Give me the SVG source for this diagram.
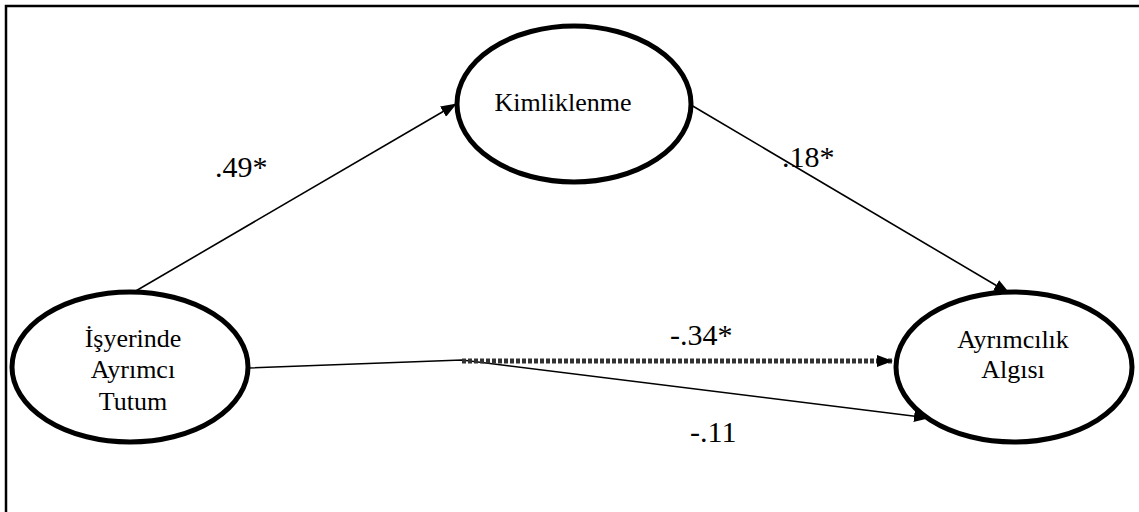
<svg xmlns="http://www.w3.org/2000/svg" width="1139" height="512" viewBox="0 0 1139 512">
<style>
.node ellipse{fill:#fff;stroke:#000;stroke-width:5}
.edge{stroke:#000;stroke-width:1.6;fill:none}
.dot{stroke:#333;stroke-width:5;stroke-dasharray:4 2;fill:none}
</style>
<defs>
<marker id="ah" markerWidth="16" markerHeight="12" refX="15" refY="6" orient="auto" markerUnits="userSpaceOnUse">
<path d="M0,0 L16,6 L0,12 Z" fill="#000"/>
</marker>
</defs>
<rect x="6" y="6" width="1150" height="520" fill="#fff" stroke="#000" stroke-width="2.5"/>
<g id="connectors">
<line class="edge" x1="134" y1="292" x2="456" y2="104" marker-end="url(#ah)"/>
<line class="edge" x1="691" y1="105" x2="1009" y2="293" marker-end="url(#ah)"/>
<polyline class="edge" points="248,368 462,360 929,418" marker-end="url(#ah)"/>
<line class="dot" x1="462" y1="361" x2="892" y2="361" marker-end="url(#ah)"/>
</g>
<g id="n-kimlik" class="node">
<ellipse cx="574" cy="104" rx="117" ry="78"/>
<text x="563" y="111" font-family="Liberation Serif" font-size="26" text-anchor="middle">Kimliklenme</text>
</g>
<g id="n-isyerinde" class="node">
<ellipse cx="130" cy="367" rx="118" ry="75"/>
<text x="133" y="347" font-family="Liberation Serif" font-size="26" text-anchor="middle">İşyerinde</text>
<text x="133" y="378" font-family="Liberation Serif" font-size="26" text-anchor="middle">Ayrımcı</text>
<text x="133" y="410" font-family="Liberation Serif" font-size="26" text-anchor="middle">Tutum</text>
</g>
<g id="n-algi" class="node">
<ellipse cx="1014" cy="367" rx="118" ry="75"/>
<text x="1013" y="348" font-family="Liberation Serif" font-size="26" text-anchor="middle">Ayrımcılık</text>
<text x="1013" y="378" font-family="Liberation Serif" font-size="26" text-anchor="middle">Algısı</text>
</g>
<g id="labels">
<text x="215" y="177" font-family="Liberation Serif" font-size="30">.49*</text>
<text x="782" y="167" font-family="Liberation Serif" font-size="30">.18*</text>
<text x="670" y="345" font-family="Liberation Serif" font-size="30">-.34*</text>
<text x="690" y="442" font-family="Liberation Serif" font-size="30">-.11</text>
</g>
</svg>
